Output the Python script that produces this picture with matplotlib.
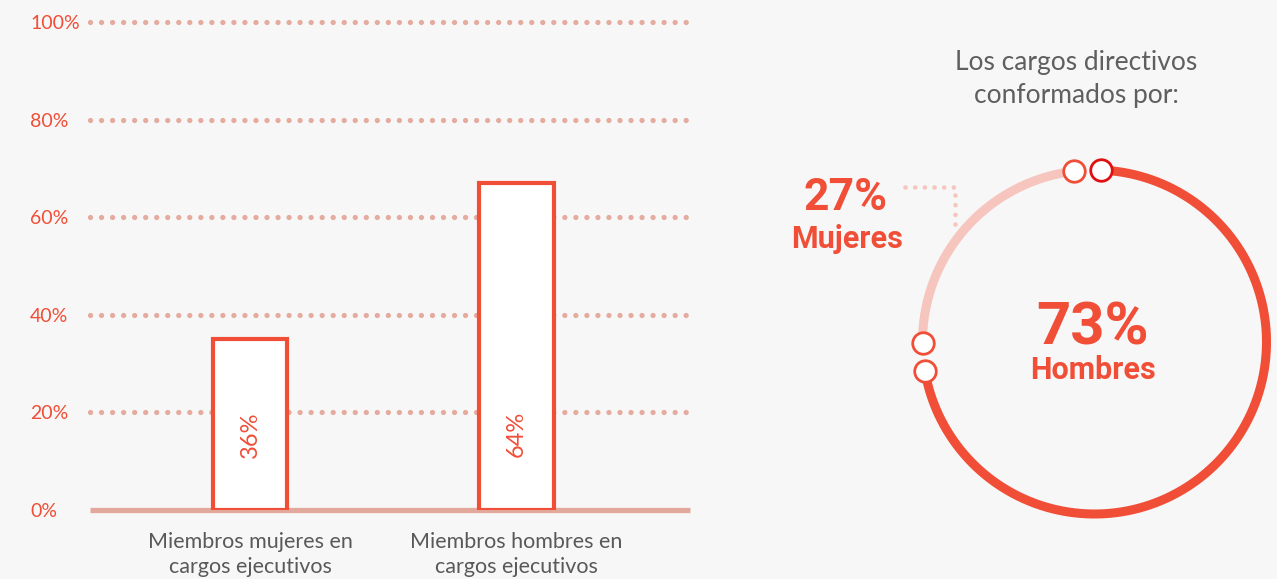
import numpy as np
import matplotlib
matplotlib.use("Agg")
import matplotlib.pyplot as plt

# ---------------- data ----------------
bar_categories = ["Miembros mujeres en\ncargos ejecutivos", "Miembros hombres en\ncargos ejecutivos"]
bar_heights = [35, 67]            # heights as drawn against the axis
bar_labels = ["36%", "64%"]       # labels printed inside the bars
y_ticks = [0, 20, 40, 60, 80, 100]
y_tick_labels = ["0%", "20%", "40%", "60%", "80%", "100%"]

ring_names = ["Hombres", "Mujeres"]
ring_shares = [73, 27]
ring_labels = ["73%", "27%"]
ring_title = "Los cargos directivos\nconformados por:"

# ---------------- style ----------------
RED = "#f04e37"
DEEP_RED = "#e10f0f"
LIGHT = "#f6c5be"
GRID = "#e4ab9e"
BASE = "#e2a89b"
GRAY = "#595959"
BG = "#f7f7f7"
FONT = "Lato"
BOLD = "Roboto"

W, H = 1277, 579
fig = plt.figure(figsize=(W / 100, H / 100), dpi=100, facecolor=BG)

# ---------------- bar chart ----------------
ax = fig.add_axes([90 / W, 1 - 510 / H, 600 / W, 488 / H])
ax.set_facecolor("none")
ax.set_xlim(-0.6, 1.65)
ax.set_ylim(0, 100)
for s in ax.spines.values():
    s.set_visible(False)

x = np.arange(len(bar_categories))
# dotted grid
for t in y_ticks[1:]:
    ax.plot([-0.6, 1.65], [t, t], color=GRID, lw=3.8,
            linestyle=(0, (0.01, 2.08)), dash_capstyle="round",
            clip_on=False, zorder=1)
ax.plot([-0.6, 1.65], [0, 0], color=BASE, lw=3.8, solid_capstyle="butt",
        clip_on=False, zorder=2)

bars = ax.bar(x, bar_heights, width=0.28, facecolor="white", edgecolor=RED,
              linewidth=3.0, zorder=3)
for xi, lab in zip(x, bar_labels):
    ax.text(xi, 15.5, lab, rotation=90, ha="center", va="center",
            color=RED, fontsize=17, family=FONT, zorder=4)

ax.set_yticks(y_ticks)
ax.set_yticklabels(y_tick_labels, family=FONT, fontsize=14, color=RED, ha="left")
ax.tick_params(axis="y", length=0, pad=43)
ax.set_xticks(x)
ax.set_xticklabels(bar_categories, family=FONT, fontsize=15.5, color=GRAY,
                   linespacing=1.3)
ax.tick_params(axis="x", length=0, pad=16)

# ---------------- ring chart ----------------
cx, cy, side = 1094.5, 342, 430
ax2 = fig.add_axes([(cx - side / 2) / W, 1 - (cy + side / 2) / H, side / W, side / H])
ax2.set_xlim(-1.25, 1.25)
ax2.set_ylim(-1.25, 1.25)
ax2.set_aspect("equal")
ax2.axis("off")

total = sum(ring_shares)
start = 92.5
boundary = start - ring_shares[0] / total * 360   # end of first segment (clockwise)
gap_top = 4.5
gap_dark_side, gap_light_side = 0.0, 9.5
# Hombres: clockwise from top
a0 = start - gap_top
a1 = boundary - gap_dark_side
th = np.radians(np.linspace(a0, a1, 400))
ax2.plot(np.cos(th), np.sin(th), color=RED, lw=6.5, solid_capstyle="butt", zorder=2)
# Mujeres: from boundary back up to top
b0 = boundary + 360 - gap_light_side
b1 = start + gap_top
th2 = np.radians(np.linspace(b0, b1, 200))
ax2.plot(np.cos(th2), np.sin(th2), color=LIGHT, lw=6.5, solid_capstyle="butt", zorder=1)

marker_angles = [a0, a1, b0, b1]
marker_edges = [DEEP_RED, RED, RED, RED]
for ang, ec in zip(marker_angles, marker_edges):
    r = np.radians(ang)
    ax2.plot(np.cos(r), np.sin(r), "o", ms=15.5, mfc="white", mec=ec, mew=2.0,
             zorder=5, clip_on=False)

ax2.text(-0.01, 0.08, ring_labels[0], ha="center", va="center", color=RED,
         fontsize=43, fontweight="bold", family=BOLD)
ax2.text(-0.01, -0.165, ring_names[0], ha="center", va="center", color=RED,
         fontsize=22, fontweight="bold", family=BOLD)
ax2.text(-1.45, 0.84, ring_labels[1], ha="center", va="center", color=RED,
         fontsize=32, fontweight="bold", family=BOLD, clip_on=False)
ax2.text(-1.44, 0.60, ring_names[1], ha="center", va="center", color=RED,
         fontsize=22, fontweight="bold", family=BOLD, clip_on=False)
# dotted leader
ax2.plot([-1.10, -0.81, -0.81], [0.90, 0.90, 0.68], color=LIGHT, lw=3.3,
         linestyle=(0, (0.01, 2.1)), dash_capstyle="round", clip_on=False)

fig.text(1076 / W, 1 - 79 / H, ring_title, ha="center", va="center",
         family=FONT, fontsize=19, color="#5f5f5f", linespacing=1.4)

fig.savefig("out.png", dpi=100, facecolor=BG)
